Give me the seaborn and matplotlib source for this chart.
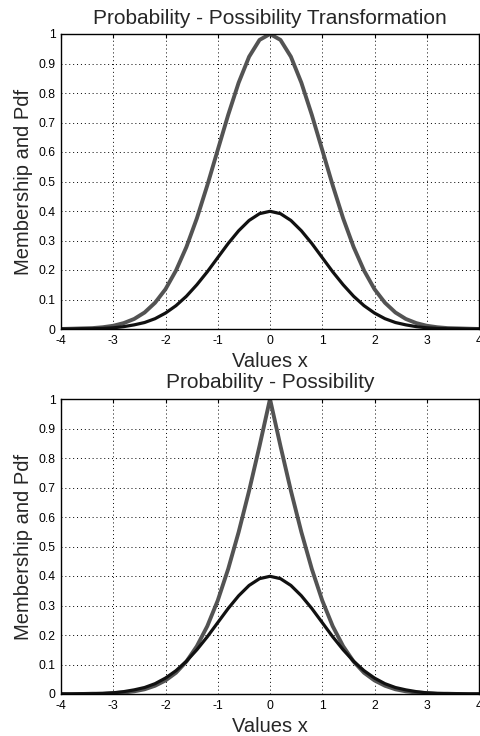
import matplotlib
matplotlib.use("Agg")
import matplotlib.pyplot as plt
import seaborn as sns
import pandas as pd

# x grid (values x)
x_vals = [-4.0, -3.8, -3.6, -3.4, -3.2, -3.0, -2.8, -2.6, -2.4, -2.2, -2.0,
          -1.8, -1.6, -1.4, -1.2, -1.0, -0.8, -0.6, -0.4, -0.2, 0.0,
          0.2, 0.4, 0.6, 0.8, 1.0, 1.2, 1.4, 1.6, 1.8, 2.0,
          2.2, 2.4, 2.6, 2.8, 3.0, 3.2, 3.4, 3.6, 3.8, 4.0]

# top panel: gray membership (bell, peak 1)
top_membership = [0.000, 0.001, 0.002, 0.003, 0.006, 0.011, 0.020, 0.034, 0.056, 0.089, 0.135,
                  0.198, 0.278, 0.375, 0.487, 0.607, 0.726, 0.835, 0.923, 0.980, 1.000,
                  0.980, 0.923, 0.835, 0.726, 0.607, 0.487, 0.375, 0.278, 0.198, 0.135,
                  0.089, 0.056, 0.034, 0.020, 0.011, 0.006, 0.003, 0.002, 0.001, 0.000]

# pdf (black), both panels
pdf_vals = [0.000, 0.000, 0.001, 0.001, 0.002, 0.004, 0.008, 0.014, 0.022, 0.035, 0.054,
            0.079, 0.111, 0.150, 0.194, 0.242, 0.290, 0.333, 0.368, 0.391, 0.399,
            0.391, 0.368, 0.333, 0.290, 0.242, 0.194, 0.150, 0.111, 0.079, 0.054,
            0.035, 0.022, 0.014, 0.008, 0.004, 0.002, 0.001, 0.001, 0.000, 0.000]

# bottom panel: gray possibility (sharp peak 1)
bottom_possibility = [0.000, 0.000, 0.000, 0.001, 0.001, 0.003, 0.005, 0.009, 0.016, 0.028, 0.046,
                      0.072, 0.110, 0.162, 0.230, 0.317, 0.424, 0.549, 0.689, 0.841, 1.000,
                      0.841, 0.689, 0.549, 0.424, 0.317, 0.230, 0.162, 0.110, 0.072, 0.046,
                      0.028, 0.016, 0.009, 0.005, 0.003, 0.001, 0.001, 0.000, 0.000, 0.000]

x_ticks = [-4, -3, -2, -1, 0, 1, 2, 3, 4]
y_ticks = [0, 0.1, 0.2, 0.3, 0.4, 0.5, 0.6, 0.7, 0.8, 0.9, 1]
y_tick_labels = ["0", "0.1", "0.2", "0.3", "0.4", "0.5", "0.6", "0.7", "0.8", "0.9", "1"]

titles = ["Probability - Possibility Transformation", "Probability - Possibility"]

sns.set_style("white")
plt.rcParams["font.family"] = ["Liberation Sans", "DejaVu Sans"]

fig = plt.figure(figsize=(4.81, 7.36), dpi=100)
ax1 = fig.add_axes([61 / 481, 1 - 329 / 736, (479 - 61) / 481, (329 - 34) / 736])
ax2 = fig.add_axes([61 / 481, 1 - 694 / 736, (479 - 61) / 481, (694 - 399) / 736])

gray = "#535353"
black = "#111111"

panels = [(ax1, top_membership), (ax2, bottom_possibility)]
for i, (ax, memb) in enumerate(panels):
    df = pd.DataFrame({"x": x_vals, "memb": memb, "pdf": pdf_vals})
    sns.lineplot(data=df, x="x", y="memb", ax=ax, color=gray, linewidth=2.8)
    sns.lineplot(data=df, x="x", y="pdf", ax=ax, color=black, linewidth=2.3)
    ax.set_xlim(-4, 4)
    ax.set_ylim(0, 1)
    ax.set_xticks(x_ticks)
    ax.set_xticklabels([str(t) for t in x_ticks])
    ax.set_yticks(y_ticks)
    ax.set_yticklabels(y_tick_labels)
    ax.tick_params(axis="x", direction="in", length=3, width=0.8, labelsize=8.7,
                   colors="black", pad=4, top=True)
    ax.tick_params(axis="y", direction="out", length=3, width=0.8, labelsize=8.7,
                   colors="black", pad=1, right=False)
    ax.grid(True, color="black", linestyle=(0, (1, 3)), linewidth=0.7)
    for sp in ax.spines.values():
        sp.set_visible(True)
        sp.set_color("black")
        sp.set_linewidth(1.0)
    ax.set_xlabel("Values x", fontsize=14.5, labelpad=4)
    ax.set_ylabel("Membership and Pdf", fontsize=14.5, labelpad=4)
    ax.set_title(titles[i], fontsize=15, pad=7 if i == 0 else 8)

fig.savefig("out.png", dpi=100)
